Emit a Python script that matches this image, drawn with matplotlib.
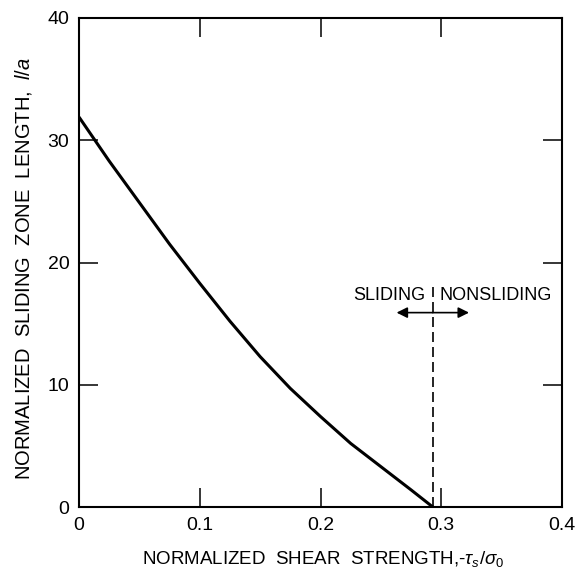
import matplotlib
matplotlib.use('Agg')
from matplotlib import pyplot as plt

plt.rcParams['font.family'] = ['Liberation Sans', 'DejaVu Sans']
plt.rcParams['mathtext.fontset'] = 'custom'
plt.rcParams['mathtext.rm'] = 'Liberation Sans'
plt.rcParams['mathtext.it'] = 'Liberation Sans:italic'

# curve
shear = [0, 0.025, 0.05, 0.075, 0.1, 0.125, 0.15, 0.175, 0.2, 0.225, 0.25, 0.275, 0.293]
length = [31.9, 28.3, 24.9, 21.5, 18.3, 15.2, 12.3, 9.7, 7.4, 5.2, 3.3, 1.4, 0]

boundary = 0.293
x_ticks = [0, 0.1, 0.2, 0.3, 0.4]
x_labels = ['0', '0.1', '0.2', '0.3', '0.4']
y_ticks = [0, 10, 20, 30, 40]

fig = plt.figure(figsize=(5.75, 5.7), dpi=100)
ax = fig.add_axes([79/575, 1 - 507/570, (562-79)/575, (507-18)/570])

ax.plot(shear, length, color='black', lw=2.2, solid_capstyle='butt', solid_joinstyle='round')
ax.plot([boundary, boundary], [0, 18], color='black', lw=1.2, dashes=(6, 3))

ax.text(0.2868, 17.3, 'SLIDING', ha='right', va='center', fontsize=13)
ax.text(0.2983, 17.3, 'NONSLIDING', ha='left', va='center', fontsize=13)
ax.annotate('', xy=(0.263, 15.9), xytext=(boundary, 15.9),
            arrowprops=dict(arrowstyle='-|>', color='black', lw=1.2, mutation_scale=16, shrinkA=0, shrinkB=0))
ax.annotate('', xy=(0.323, 15.9), xytext=(boundary, 15.9),
            arrowprops=dict(arrowstyle='-|>', color='black', lw=1.2, mutation_scale=16, shrinkA=0, shrinkB=0))

ax.set_xlim(0, 0.4)
ax.set_ylim(0, 40)
ax.set_xticks(x_ticks)
ax.set_xticklabels(x_labels)
ax.set_yticks(y_ticks)
ax.tick_params(direction='in', length=14, width=1.1, top=True, right=True,
               labelsize=14, pad=7)
for s in ax.spines.values():
    s.set_linewidth(1.5)

fig.text(323/575, 1 - 559/570, r'NORMALIZED  SHEAR  STRENGTH,-$\tau_s/\sigma_0$',
         ha='center', va='center', fontsize=13.5)
fig.text(24/575, 1 - 269/570, r'NORMALIZED  SLIDING  ZONE  LENGTH,  $l/a$',
         ha='center', va='center', rotation=90, fontsize=14.5)

fig.savefig('out.png', dpi=100)
